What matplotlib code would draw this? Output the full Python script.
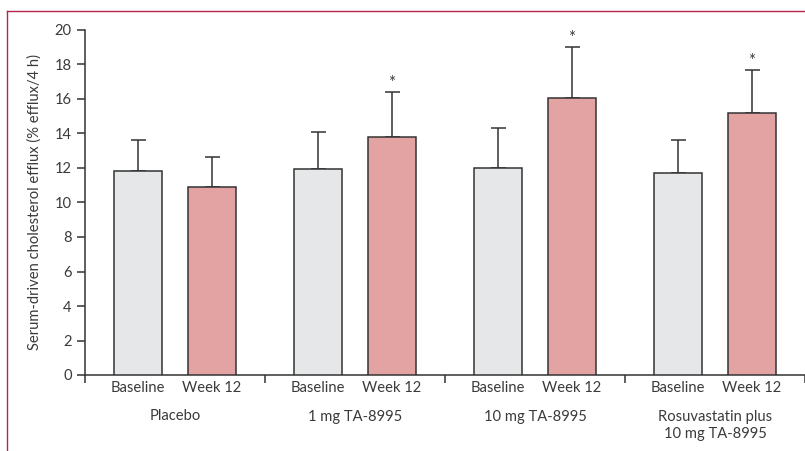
import numpy as np
import matplotlib.pyplot as plt
from matplotlib.lines import Line2D

plt.rcParams['font.family'] = ['Lato', 'DejaVu Sans']

# --Datos
groups = ['Placebo', '1 mg TA-8995', '10 mg TA-8995', 'Rosuvastatin plus\n10 mg TA-8995']
bar_labels = ['Baseline', 'Week 12']
baseline = [11.8, 11.95, 12.0, 11.7]
baseline_err = [1.8, 2.15, 2.3, 1.9]
week12 = [10.9, 13.8, 16.05, 15.2]
week12_err = [1.75, 2.6, 2.95, 2.5]
significant = [False, True, True, True]

text_col = '#3a3a3a'
fs = 10.6
fig = plt.figure(figsize=(8.05, 4.51), dpi=100)
ax = fig.add_axes([85 / 805, 76 / 451, 720 / 805, 345 / 451])

x = np.arange(len(groups))
w = 48 / 180
off_b = 53 / 180
off_w = 127 / 180
ax.bar(x + off_b, baseline, w, color='#e6e7e9', edgecolor='#333333', linewidth=1.1, zorder=3)
ax.bar(x + off_w, week12, w, color='#e2a3a2', edgecolor='#333333', linewidth=1.1, zorder=3)
ax.errorbar(x + off_b, baseline, yerr=[np.zeros(4), baseline_err], fmt='none',
            ecolor='#333333', elinewidth=1.1, capsize=5.4, capthick=1.1, zorder=2)
ax.errorbar(x + off_w, week12, yerr=[np.zeros(4), week12_err], fmt='none',
            ecolor='#333333', elinewidth=1.1, capsize=5.4, capthick=1.1, zorder=2)
for i in range(len(groups)):
    if significant[i]:
        ax.text(x[i] + off_w, week12[i] + week12_err[i] + 0.05, '*', ha='center', va='bottom',
                fontsize=12, color=text_col)

ax.set_xlim(0, 4)
ax.set_ylim(0, 20)
ax.set_yticks(range(0, 21, 2))
ax.set_xticks(range(0, 5))
ax.set_xticklabels([])
ax.set_xticks(np.concatenate([x + off_b, x + off_w]), minor=True)
ax.set_xticklabels(bar_labels[:1] * 4 + bar_labels[1:] * 4, minor=True)
ax.tick_params(axis='x', which='minor', length=0, pad=4, labelsize=fs, labelcolor=text_col)
ax.tick_params(axis='x', which='major', length=6, width=1.1, color='#333333')
ax.tick_params(axis='y', length=6, width=1.1, color='#333333', labelsize=fs, labelcolor=text_col)
for s in ['top', 'right']:
    ax.spines[s].set_visible(False)
for s in ['left', 'bottom']:
    ax.spines[s].set_linewidth(1.1)
    ax.spines[s].set_color('#333333')
ax.set_ylabel('Serum-driven cholesterol efflux (% efflux/4 h)', fontsize=fs, color=text_col, labelpad=9)

for i, g in enumerate(groups):
    ax.text(x[i] + 0.5, -2.0, g, ha='center', va='top', fontsize=fs, color=text_col,
            linespacing=1.35)

# --Borde
fig.add_artist(Line2D([7 / 805, 7 / 805], [0, 1 - 11 / 451], color='#b5254b', lw=1.0))
fig.add_artist(Line2D([7 / 805, 1], [1 - 11 / 451, 1 - 11 / 451], color='#b5254b', lw=1.0))

fig.savefig('out.png', dpi=100)
